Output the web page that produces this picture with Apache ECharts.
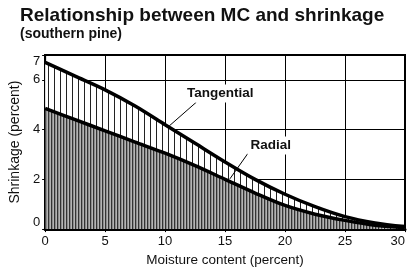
<!DOCTYPE html>
<html>
<head>
<meta charset="utf-8">
<script src="https://cdn.jsdelivr.net/npm/echarts@6/dist/echarts.min.js"></script>
<style>
  html, body { margin: 0; padding: 0; background: #fff; }
  #chart { width: 412px; height: 272px; }
</style>
</head>
<body>
<div id="chart"></div>
<script>
// data
var moisture = [0, 2.5, 5, 7.5, 10, 12.5, 15, 17.5, 20, 22.5, 25, 27.5, 30];
var tangential = [6.7, 6.15, 5.6, 4.95, 4.2, 3.45, 2.7, 2.0, 1.4, 0.9, 0.5, 0.25, 0.1];
var radial = [4.85, 4.4, 3.95, 3.5, 3.05, 2.55, 2.0, 1.45, 0.95, 0.6, 0.35, 0.15, 0.05];
var xTicks = [0, 5, 10, 15, 20, 25, 30];
var yTicks = [0, 2, 4, 6, 7];

// label anchors in data coordinates [leader start, leader end, text]
var tangLabel = { name: 'Tangential', from: [10.35, 4.15], to: [12.6, 5.1], text: [14.6, 5.45] };
var radLabel = { name: 'Radial', from: [15.4, 2.02], to: [16.9, 3.04], text: [18.8, 3.36] };

function pairs(xs, ys) {
    var out = [];
    for (var i = 0; i < xs.length; i++) out.push([xs[i], ys[i]]);
    return out;
}

// vertical hatch patterns
function hatch(w, bg, fg, lw) {
    var c = document.createElement('canvas');
    c.width = w; c.height = 8;
    var ctx = c.getContext('2d');
    ctx.fillStyle = bg;
    ctx.fillRect(0, 0, w, 8);
    ctx.fillStyle = fg;
    ctx.fillRect(0, 0, lw, 8);
    return { image: c, repeat: 'repeat' };
}

var chart = echarts.init(document.getElementById('chart'));
var font = 'Liberation Sans, Arial, Helvetica, sans-serif';

var option = {
    backgroundColor: '#fff',
    animation: false,
    title: {
        text: 'Relationship between MC and shrinkage',
        subtext: '(southern pine)',
        left: 15,
        top: 1,
        itemGap: 2,
        textStyle: { fontFamily: font, fontSize: 19, fontWeight: 'bold', color: '#111' },
        subtextStyle: { fontFamily: font, fontSize: 14, fontWeight: 'bold', color: '#111' }
    },
    grid: {
        left: 40, right: 7, top: 55, bottom: 40,
        show: true, borderColor: '#000', borderWidth: 2, backgroundColor: '#fff'
    },
    xAxis: {
        type: 'value',
        min: xTicks[0], max: xTicks[xTicks.length - 1], interval: 5,
        name: 'Moisture content (percent)',
        nameLocation: 'middle',
        nameGap: 21,
        nameTextStyle: { fontFamily: font, fontSize: 13.5, color: '#111' },
        axisLine: { show: true, lineStyle: { color: '#000', width: 3 } },
        axisTick: { show: true, length: 3, lineStyle: { color: '#000' } },
        axisLabel: { fontFamily: font, fontSize: 13, color: '#111', margin: 6, alignMaxLabel: 'right' },
        splitLine: { show: true, lineStyle: { color: '#000', width: 1 } }
    },
    yAxis: {
        type: 'value',
        min: yTicks[0], max: yTicks[yTicks.length - 1], interval: 2,
        name: 'Shrinkage (percent)',
        nameLocation: 'middle',
        nameGap: 19,
        nameTextStyle: { fontFamily: font, fontSize: 14, color: '#111' },
        axisLine: { show: true, lineStyle: { color: '#000', width: 2 } },
        axisTick: { show: true, length: 3, lineStyle: { color: '#000' } },
        axisLabel: {
            fontFamily: font, fontSize: 13, color: '#111', margin: 5,
            verticalAlignMinLabel: 'bottom', verticalAlignMaxLabel: 'top'
        },
        splitLine: { show: true, lineStyle: { color: '#000', width: 1 } }
    },
    series: [
        {
            name: 'Tangential',
            type: 'line',
            data: pairs(moisture, tangential),
            smooth: 0.3,
            symbol: 'none',
            z: 3,
            lineStyle: { color: '#000', width: 3.5 },
            areaStyle: { color: hatch(6, '#fff', '#222', 1), opacity: 1 }
        },
        {
            name: 'Radial',
            type: 'line',
            data: pairs(moisture, radial),
            smooth: 0.3,
            symbol: 'none',
            z: 4,
            lineStyle: { color: '#000', width: 3.5 },
            areaStyle: { color: hatch(3, '#b4b4b4', '#333', 1.3), opacity: 1 }
        }
    ]
};

chart.setOption(option);

// leader lines and labels for the two curves
function annot(a) {
    var p0 = chart.convertToPixel({ gridIndex: 0 }, a.from);
    var p1 = chart.convertToPixel({ gridIndex: 0 }, a.to);
    var pt = chart.convertToPixel({ gridIndex: 0 }, a.text);
    return [
        {
            type: 'line', z: 10,
            shape: { x1: p0[0], y1: p0[1], x2: p1[0], y2: p1[1] },
            style: { stroke: '#000', lineWidth: 1 }
        },
        {
            type: 'text', z: 10, x: pt[0], y: pt[1],
            style: {
                text: a.name, fill: '#111', font: 'bold 13.5px ' + font,
                align: 'center', verticalAlign: 'middle',
                backgroundColor: '#fff', padding: [2, 3]
            }
        }
    ];
}

chart.setOption({ graphic: annot(tangLabel).concat(annot(radLabel)) });

window.onresize = chart.resize;
</script>
</body>
</html>
